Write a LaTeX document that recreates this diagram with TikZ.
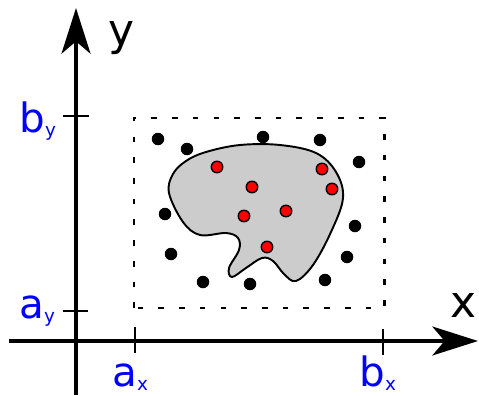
\documentclass[tikz,border=0pt]{standalone}
\usepackage{fontspec}
\setmainfont{DejaVu Sans}
\usetikzlibrary{arrows.meta}
\definecolor{blobgray}{HTML}{CCCCCC}
\newcommand{\lowsub}[1]{\raisebox{-2.3pt}{\fontsize{10.5}{12}\selectfont #1}}

\begin{document}
\begin{tikzpicture}[x=0.02cm, y=-0.02cm,
  axis/.style={line width=1.8pt, -{Stealth[length=26pt, width=16.5pt, inset=7pt]}},
  tickline/.style={line width=0.8pt},
  lbl/.style={text=blue, font=\fontsize{23}{26}\selectfont, inner sep=0pt, anchor=base west},
  axlbl/.style={font=\fontsize{25}{28}\selectfont, inner sep=0pt},
  outdot/.style={circle, fill=black, minimum size=0.25cm, inner sep=0pt},
  indot/.style={circle, fill=red, draw=black, line width=0.8pt, minimum size=0.23cm, inner sep=0pt}]

	\useasboundingbox (0,0) rectangle (479,395);

	% Bounding box of the sample (dashed)
	\coordinate (lo) at (134,308);
	\coordinate (hi) at (384,118);
	\draw[line width=1.7pt, dash pattern=on 3.2pt off 8.6pt] (lo) rectangle (hi);

	% Region
	\draw[fill=blobgray, line width=1.1pt] plot[smooth cycle, tension=0.6] coordinates {
		(169,193) (173,174) (186,161) (206,152) (240,145) (280,145) (316,153) (336,172) (343,198)
		(331,232) (313,265) (296,281) (284,274) (273,261) (262,258) (246,268)
		(232,277) (229,268) (239,250) (238,238) (226,233) (200,235) (183,222)};

	% Points outside the region
	\node[outdot] (o1) at (158,139) {};
	\node[outdot] (o2) at (187,149) {};
	\node[outdot] (o3) at (263,137) {};
	\node[outdot] (o4) at (320,140) {};
	\node[outdot] (o5) at (359,162) {};
	\node[outdot] (o6) at (165,214) {};
	\node[outdot] (o7) at (355,226) {};
	\node[outdot] (o8) at (171,254) {};
	\node[outdot] (o9) at (347,257) {};
	\node[outdot] (o10) at (203,282) {};
	\node[outdot] (o11) at (250,284) {};
	\node[outdot] (o12) at (325,280) {};

	% Points inside the region (red)
	\node[indot] (i1) at (217,167) {};
	\node[indot] (i2) at (252,187) {};
	\node[indot] (i3) at (322,169) {};
	\node[indot] (i4) at (332,189) {};
	\node[indot] (i5) at (244,216) {};
	\node[indot] (i6) at (286,211) {};
	\node[indot] (i7) at (267,247) {};

	% Axes
	\coordinate (xl) at (9,341);
	\coordinate (xr) at (478,341);
	\coordinate (yb) at (76,395);
	\coordinate (yt) at (76,8);
	\draw[axis] (xl) -- (xr);
	\draw[axis] (yb) -- (yt);
	\node[axlbl] (xname) at (463,305) {x};
	\node[axlbl] (yname) at (121,38) {y};

	% Ticks
	\draw[tickline] (63,116) -- (89,116);
	\draw[tickline] (63,311) -- (88,311);
	\draw[tickline] (135,327) -- (135,353);
	\draw[tickline] (383,329) -- (383,355);

	% Tick labels
	\node[lbl] (by) at (19,132) {b\lowsub{y}};
	\node[lbl] (ay) at (19,318) {a\lowsub{y}};
	\node[lbl] (ax) at (112,386) {a\lowsub{x}};
	\node[lbl] (bx) at (359,386) {b\lowsub{x}};

\end{tikzpicture}
\end{document}
